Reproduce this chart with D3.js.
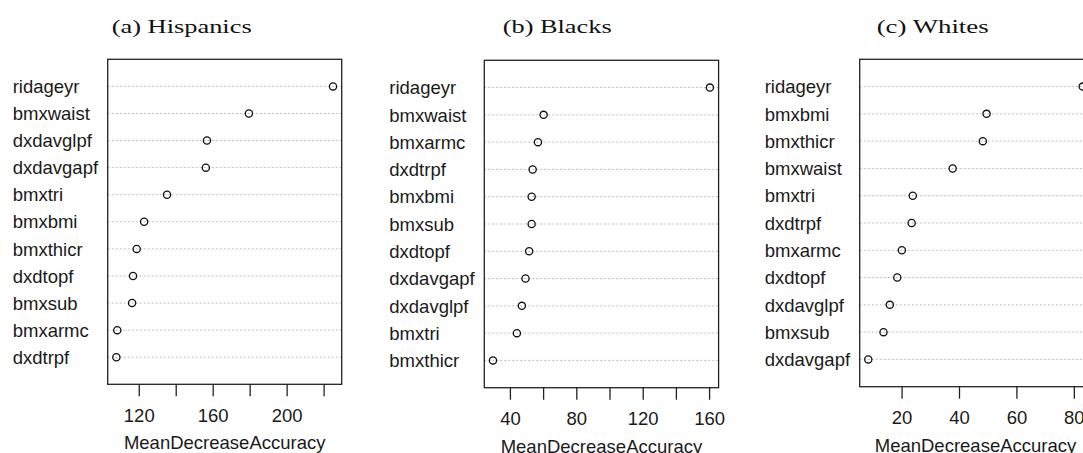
<!DOCTYPE html>
<html>
<head>
<meta charset="utf-8">
<script src="https://cdn.jsdelivr.net/npm/d3@7"></script>
<style>
  body { margin: 0; background: #fff; }
  svg { display: block; }
  .lab { font-family: 'Liberation Sans', Arial, sans-serif; font-size: 18.5px; fill: #1a1a1a; }
  .ttl { font-family: 'Liberation Serif', 'Times New Roman', serif; font-size: 19.5px; fill: #111; }
</style>
</head>
<body>
<svg id="chart" width="1083" height="453"></svg>
<script>
// variable importance (MeanDecreaseAccuracy), top to bottom as plotted
const hispanicVars = ['ridageyr', 'bmxwaist', 'dxdavglpf', 'dxdavgapf', 'bmxtri', 'bmxbmi', 'bmxthicr', 'dxdtopf', 'bmxsub', 'bmxarmc', 'dxdtrpf']
const hispanicMDA = [225.1, 179.6, 156.9, 156.3, 135.3, 122.9, 118.9, 116.9, 116.4, 108.4, 107.9]

const blackVars = ['ridageyr', 'bmxwaist', 'bmxarmc', 'dxdtrpf', 'bmxbmi', 'bmxsub', 'dxdtopf', 'dxdavgapf', 'dxdavglpf', 'bmxtri', 'bmxthicr']
const blackMDA = [160.5, 60.3, 56.9, 53.7, 53.1, 53.1, 51.6, 49.4, 47.2, 44.2, 29.8]

const whiteVars = ['ridageyr', 'bmxbmi', 'bmxthicr', 'bmxwaist', 'bmxtri', 'dxdtrpf', 'bmxarmc', 'dxdtopf', 'dxdavglpf', 'bmxsub', 'dxdavgapf']
const whiteMDA = [83.1, 49.6, 48.3, 37.8, 23.9, 23.5, 20.1, 18.5, 15.9, 13.7, 8.4]

const titles = ['(a) Hispanics', '(b) Blacks', '(c) Whites']
const tickValues = [[120, 140, 160, 180, 200, 220], [40, 60, 80, 100, 120, 140, 160], [20, 40, 60, 80]]
const tickLabels = [[120, 160, 200], [40, 80, 120, 160], [20, 40, 60, 80]]
const xTitle = 'MeanDecreaseAccuracy'

const panels = [
  { vars: hispanicVars, vals: hispanicMDA },
  { vars: blackVars, vals: blackMDA },
  { vars: whiteVars, vals: whiteMDA }
]

// box geometry of each panel
const layout = [
  { left: 107.7, top: 59.3, bottom: 384.3, width: 234, titleX: 181.7, titleW: 140 },
  { left: 484.3, top: 60.3, bottom: 387.7, width: 234.3, titleX: 557.2, titleW: 109 },
  { left: 859.7, top: 59.3, bottom: 386.7, width: 231.6, titleX: 932.7, titleW: 112 }
]

const svg = d3.select('#chart')

panels.forEach((p, i) => {
  const L = layout[i]
  const n = p.vars.length
  const [lo, hi] = d3.extent(p.vals)
  const pad = (hi - lo) * 0.04

  const x = d3.scaleLinear().domain([lo - pad, hi + pad]).range([L.left, L.left + L.width])
  // R dotchart: rows at 1..n, ylim = c(0, n + 1)
  const y = d3.scaleLinear().domain([0, n + 1]).range([L.bottom, L.top])

  const g = svg.append('g')

  // title
  g.append('text')
    .attr('class', 'ttl')
    .attr('x', L.titleX)
    .attr('y', 32.7)
    .attr('text-anchor', 'middle')
    .attr('textLength', L.titleW)
    .attr('lengthAdjust', 'spacingAndGlyphs')
    .text(titles[i])

  const rows = p.vars.map((v, j) => ({ name: v, value: p.vals[j], pos: n - j }))

  // dotted guide lines
  g.selectAll('line.guide').data(rows).enter()
    .append('line')
    .attr('class', 'guide')
    .attr('x1', x.range()[0])
    .attr('x2', x.range()[1])
    .attr('y1', d => y(d.pos))
    .attr('y2', d => y(d.pos))
    .attr('stroke', '#bdbdbd')
    .attr('stroke-width', 1)
    .attr('stroke-dasharray', '2 2')

  // row labels, left aligned like mtext(adj = 0)
  g.selectAll('text.lab').data(rows).enter()
    .append('text')
    .attr('class', 'lab')
    .attr('x', L.left - 95)
    .attr('y', d => y(d.pos))
    .attr('dy', '0.36em')
    .text(d => d.name)

  // points
  g.selectAll('circle.pt').data(rows).enter()
    .append('circle')
    .attr('class', 'pt')
    .attr('cx', d => x(d.value))
    .attr('cy', d => y(d.pos))
    .attr('r', 3.6)
    .attr('fill', 'none')
    .attr('stroke', '#111')
    .attr('stroke-width', 1.3)

  // frame
  g.append('rect')
    .attr('x', L.left)
    .attr('y', L.top)
    .attr('width', L.width)
    .attr('height', L.bottom - L.top)
    .attr('fill', 'none')
    .attr('stroke', '#222')
    .attr('stroke-width', 1.3)

  // x axis
  const shown = new Set(tickLabels[i])
  const axis = g.append('g')
    .attr('transform', `translate(0,${L.bottom})`)
    .call(d3.axisBottom(x)
      .tickValues(tickValues[i])
      .tickSize(12)
      .tickFormat(d => shown.has(d) ? d : ''))
  axis.select('.domain').remove()
  axis.selectAll('.tick line').attr('stroke', '#222').attr('stroke-width', 1.3)
  axis.selectAll('.tick text')
    .attr('class', 'lab')
    .attr('y', 37.5)
    .attr('dy', null)
    .style('font-size', null)
    .attr('font-size', null)
    .attr('font-family', null)
  axis.attr('font-size', null).attr('font-family', null)

  g.append('text')
    .attr('class', 'lab')
    .attr('x', L.left + L.width / 2)
    .attr('y', L.bottom + 65)
    .attr('text-anchor', 'middle')
    .text(xTitle)
})
</script>
</body>
</html>
